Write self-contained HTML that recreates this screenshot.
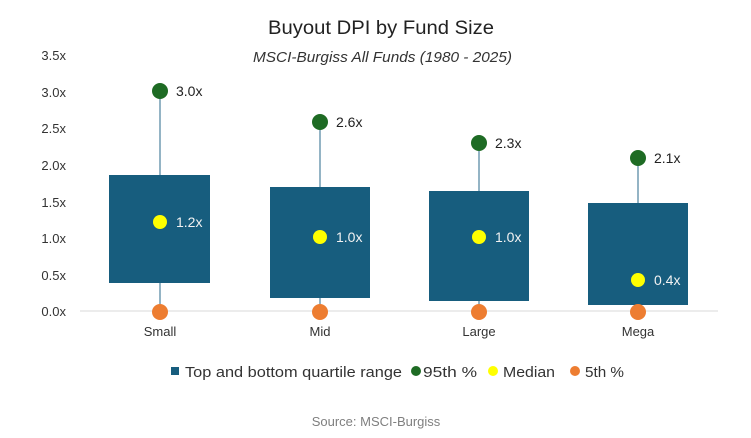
<!DOCTYPE html>
<html><head><style>
body{margin:0;background:#fff}
svg{display:block;font-family:"Liberation Sans",sans-serif}
</style></head><body>
<svg width="751" height="438" viewBox="0 0 751 438">
<rect width="751" height="438" fill="#fff"/>
<text x="268" y="34" font-size="19" fill="#222" textLength="226" lengthAdjust="spacingAndGlyphs">Buyout DPI by Fund Size</text>
<text x="253" y="62" font-size="15" font-style="italic" fill="#333" textLength="259" lengthAdjust="spacingAndGlyphs">MSCI-Burgiss All Funds (1980 - 2025)</text>
<g font-size="13" fill="#333" text-anchor="end">
<text x="66" y="60">3.5x</text><text x="66" y="97">3.0x</text><text x="66" y="133">2.5x</text><text x="66" y="170">2.0x</text><text x="66" y="207">1.5x</text><text x="66" y="243">1.0x</text><text x="66" y="280">0.5x</text><text x="66" y="316">0.0x</text>
</g>
<line x1="80" y1="311" x2="718" y2="311" stroke="#d9d9d9" stroke-width="1"/>
<g stroke="#5a8ca6" stroke-width="1.3">
<line x1="160" y1="91" x2="160" y2="311"/>
<line x1="320" y1="122" x2="320" y2="311"/>
<line x1="479" y1="143" x2="479" y2="311"/>
<line x1="638" y1="158" x2="638" y2="311"/>
</g>
<g fill="#175d7e">
<rect x="109" y="175" width="101" height="108"/>
<rect x="270" y="187" width="100" height="111"/>
<rect x="429" y="191" width="100" height="110"/>
<rect x="588" y="203" width="100" height="102"/>
</g>
<g fill="#1e6b24">
<circle cx="160" cy="91" r="8"/><circle cx="320" cy="122" r="8"/><circle cx="479" cy="143" r="8"/><circle cx="638" cy="158" r="8"/>
</g>
<g fill="#ffff00">
<circle cx="160" cy="222" r="7"/><circle cx="320" cy="237" r="7"/><circle cx="479" cy="237" r="7"/><circle cx="638" cy="280" r="7"/>
</g>
<g fill="#ed7d31">
<circle cx="160" cy="312" r="8"/><circle cx="320" cy="312" r="8"/><circle cx="479" cy="312" r="8"/><circle cx="638" cy="312" r="8"/>
</g>
<g font-size="14" fill="#222">
<text x="176" y="96">3.0x</text><text x="336" y="127">2.6x</text><text x="495" y="148">2.3x</text><text x="654" y="163">2.1x</text>
</g>
<g font-size="14" fill="#f2f2f2">
<text x="176" y="227">1.2x</text><text x="336" y="242">1.0x</text><text x="495" y="242">1.0x</text><text x="654" y="285">0.4x</text>
</g>
<g font-size="13" fill="#333" text-anchor="middle">
<text x="160" y="336">Small</text><text x="320" y="336">Mid</text><text x="479" y="336">Large</text><text x="638" y="336">Mega</text>
</g>
<g font-size="15" fill="#333">
<rect x="171" y="367" width="8" height="8" fill="#175d7e"/>
<text x="185" y="377" textLength="217" lengthAdjust="spacingAndGlyphs">Top and bottom quartile range</text>
<circle cx="416" cy="371" r="5" fill="#1e6b24"/><text x="423" y="377" textLength="54" lengthAdjust="spacingAndGlyphs">95th %</text>
<circle cx="493" cy="371" r="5" fill="#ffff00"/><text x="503" y="377" textLength="52" lengthAdjust="spacingAndGlyphs">Median</text>
<circle cx="575" cy="371" r="5" fill="#ed7d31"/><text x="585" y="377" textLength="39" lengthAdjust="spacingAndGlyphs">5th %</text>
</g>
<text x="376" y="426" font-size="13" fill="#7f7f7f" text-anchor="middle">Source: MSCI-Burgiss</text>
</svg>
</body></html>
